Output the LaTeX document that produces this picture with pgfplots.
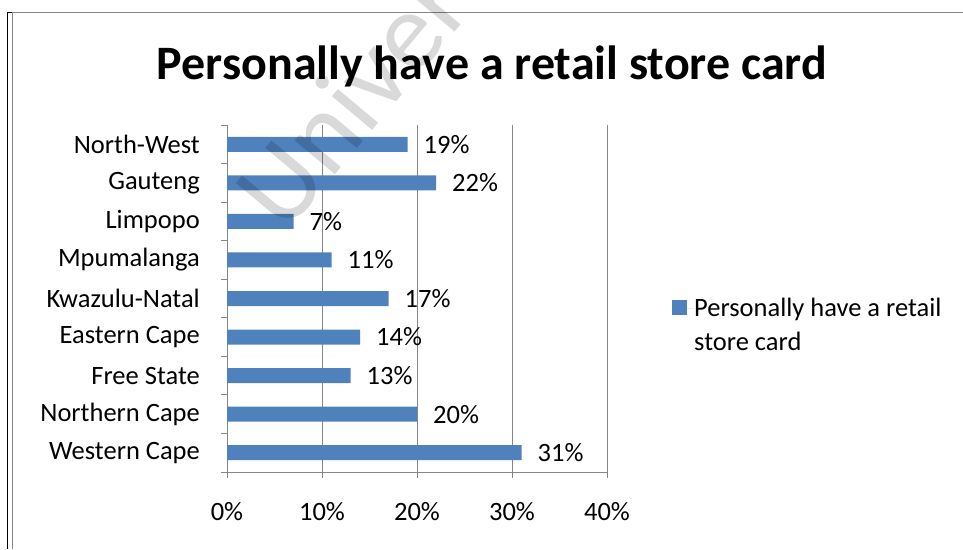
\documentclass[border=0pt]{standalone}
\usepackage{pgfplots}
\pgfplotsset{compat=1.18}
\usepackage{fontspec}
\setmainfont{Carlito}
\definecolor{barblue}{HTML}{4F81BD}
\definecolor{gridgray}{HTML}{868686}
\begin{document}
\begin{tikzpicture}[x=1pt,y=1pt]
\useasboundingbox (0,0) rectangle (963,549);
% frame
\draw[black, line width=1pt] (7,0) -- (7,536) -- (12,536);
\draw[gridgray, line width=1pt] (12,0) -- (12,536) -- (963,536);
% title
\node[anchor=base, inner sep=0pt, font=\fontsize{48}{48}\bfseries\selectfont] at (492,469) {Personally have a retail store card};
\begin{axis}[
  at={(227pt,77pt)}, anchor=south west,
  scale only axis, width=380pt, height=347pt,
  xbar, bar width=15pt,
  xmin=0, xmax=40, ymin=-0.5, ymax=8.5,
  axis x line*=bottom, axis y line*=left,
  axis line style={gridgray, line width=1pt},
  xmajorgrids, grid style={gridgray, line width=1pt},
  xtick={0,10,20,30,40},
  xticklabels={0\%,10\%,20\%,30\%,40\%},
  tick align=outside, major tick length=6pt,
  tick style={gridgray, line width=1pt},
  ytick={-0.5,0.5,...,8.5}, yticklabels={},
  extra y ticks={0,1,2,3,4,5,6,7,8},
  extra y tick labels={Western Cape,Northern Cape,Free State,Eastern Cape,Kwazulu-Natal,Mpumalanga,Limpopo,Gauteng,North-West},
  extra y tick style={major tick length=0pt, yticklabel style={anchor=east, inner sep=0pt, xshift=-27pt}},
  ticklabel style={font=\fontsize{26.5}{26.5}\selectfont},
  xticklabel style={anchor=base, inner sep=0pt, yshift=-42pt},
  /pgf/number format/assume math mode=true,
  nodes near coords={\pgfmathprintnumber{\pgfplotspointmeta}\%},
  point meta=x,
  nodes near coords style={anchor=west, inner sep=0pt, xshift=16pt, font=\fontsize{26.5}{26.5}\selectfont, text=black},
  legend style={draw=none, fill=none, at={(445pt,174pt)}, anchor=north west, inner sep=0pt,
     nodes={text width=260pt, align=flush left, font={\fontsize{26.5}{34}\selectfont}, inner sep=0pt}},
  legend cell align=left,
  legend image code/.code={\fill[barblue] (0pt,-7pt) rectangle (15pt,8pt); \path (0pt,0pt) -- (22pt,0pt);},
  clip=false,
]
\addplot[fill=barblue, draw=none] coordinates {
(31,0) (20,1) (13,2) (14,3) (17,4) (11,5) (7,6) (22,7) (19,8)};
\addlegendentry{Personally have a retail\\store card}
\end{axis}
% watermark
\node[rotate=50, anchor=base west, text=black, opacity=0.15, inner sep=0pt, font=\fontsize{110}{110}\selectfont] at (285,314) {Univer};
\end{tikzpicture}
\end{document}
